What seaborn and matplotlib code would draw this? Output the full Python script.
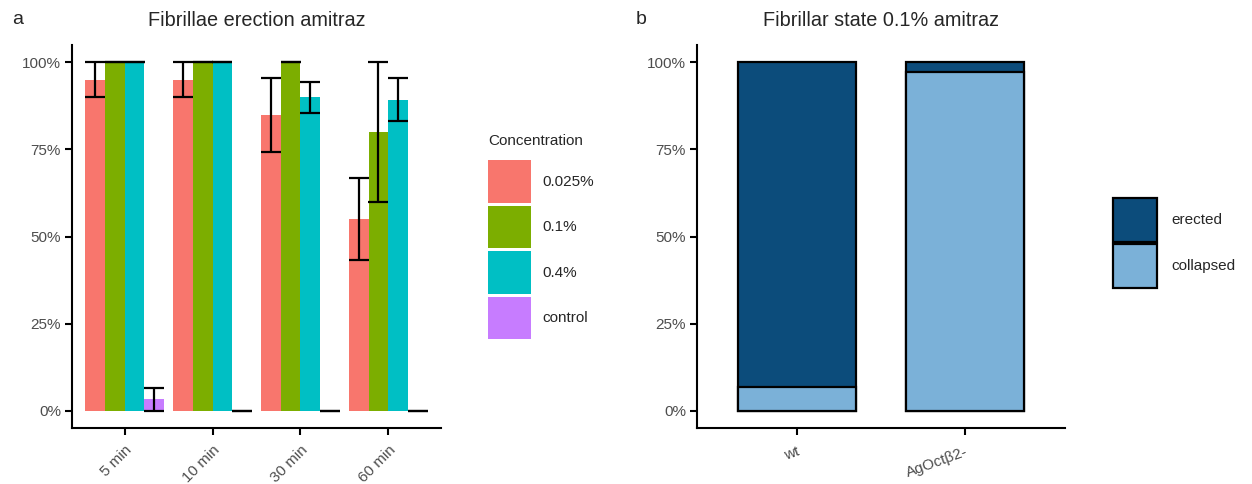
import numpy as np
import pandas as pd
import matplotlib
matplotlib.use("Agg")
import matplotlib.pyplot as plt
import seaborn as sns

# ---- data panel a ----
times = ["5 min", "10 min", "30 min", "60 min"]
concentrations = ["0.025%", "0.1%", "0.4%", "control"]
erect_0025 = [0.95, 0.95, 0.85, 0.55]
erect_01 = [1.00, 1.00, 1.00, 0.80]
erect_04 = [1.00, 1.00, 0.90, 0.893]
erect_ctrl = [0.033, 0.0, 0.0, 0.0]
err_0025 = [0.05, 0.05, 0.106, 0.118]
err_01 = [0.0, 0.0, 0.0, 0.20]
err_04 = [0.0, 0.0, 0.045, 0.062]
err_ctrl = [0.033, 0.0, 0.0, 0.0]
conc_colors = ["#F8766D", "#7CAE00", "#00BFC4", "#C77CFF"]

# ---- data panel b ----
genotypes = ["wt", "AgOctβ2-"]
collapsed = [0.067, 0.972]
erected = [0.933, 0.028]
state_colors = {"erected": "#0C4C7B", "collapsed": "#7BB1D8"}

sns.set_theme(style="white")
plt.rcParams["font.family"] = ["Liberation Sans", "DejaVu Sans"]

fig = plt.figure(figsize=(12.52, 4.84), dpi=100)
axa = fig.add_axes([72 / 1252, 1 - 428 / 484, 369 / 1252, 383 / 484])
axb = fig.add_axes([697 / 1252, 1 - 428 / 484, 368 / 1252, 383 / 484])

vals = [erect_0025, erect_01, erect_04, erect_ctrl]
errs = [err_0025, err_01, err_04, err_ctrl]
rows = []
for c, v in zip(concentrations, vals):
    for t, y in zip(times, v):
        rows.append({"time": t, "conc": c, "value": y})
dfa = pd.DataFrame(rows)

sns.barplot(data=dfa, x="time", y="value", hue="conc", order=times,
            hue_order=concentrations, palette=conc_colors, errorbar=None,
            width=0.9, saturation=1, linewidth=0, ax=axa)

for cont, v, e in zip(axa.containers, vals, errs):
    xs = [p.get_x() + p.get_width() / 2 for p in cont.patches]
    axa.errorbar(xs, v, yerr=e, fmt="none", ecolor="black", elinewidth=1.6,
                 capsize=7, capthick=1.6, zorder=5)

axa.set_xlim(-0.6, 3.6)
axa.set_ylim(-0.05, 1.05)
axa.set_yticks([0, 0.25, 0.5, 0.75, 1.0])
axa.set_yticklabels(["0%", "25%", "50%", "75%", "100%"])
axa.set_xlabel("")
axa.set_ylabel("")
axa.set_title("Fibrillae erection amitraz", fontsize=14.3, pad=14)

handles, labels = axa.get_legend_handles_labels()
lega = axa.legend(handles, labels, title="Concentration", loc="upper left",
                  bbox_to_anchor=(1.127, 0.768), frameon=False, fontsize=11,
                  title_fontsize=11, handlelength=2.85, handleheight=3.9,
                  labelspacing=0.2, handletextpad=0.7, alignment="left",
                  borderaxespad=0, borderpad=0)
lega._legend_box.sep = 9

# ---- panel b ----
total = [c + e for c, e in zip(collapsed, erected)]
dfb = pd.DataFrame({"genotype": genotypes, "total": total, "collapsed": collapsed})
sns.barplot(data=dfb, x="genotype", y="total", color=state_colors["erected"],
            saturation=1, width=0.7, edgecolor="black", linewidth=1.6,
            errorbar=None, ax=axb, label="erected")
sns.barplot(data=dfb, x="genotype", y="collapsed", color=state_colors["collapsed"],
            saturation=1, width=0.7, edgecolor="black", linewidth=1.6,
            errorbar=None, ax=axb, label="collapsed")
axb.set_xlim(-0.595, 1.595)
axb.set_ylim(-0.05, 1.05)
axb.set_yticks([0, 0.25, 0.5, 0.75, 1.0])
axb.set_yticklabels(["0%", "25%", "50%", "75%", "100%"])
axb.set_xlabel("")
axb.set_ylabel("")
axb.set_title("Fibrillar state 0.1% amitraz", fontsize=14.3, pad=14)
hb, lb = axb.get_legend_handles_labels()
axb.legend(hb, lb, loc="upper left", bbox_to_anchor=(1.13, 0.6005), frameon=False,
           fontsize=11, handlelength=2.9, handleheight=4.1, labelspacing=0.1,
           handletextpad=0.9, borderaxespad=0, borderpad=0)

for ax in (axa, axb):
    for s in ("top", "right"):
        ax.spines[s].set_visible(False)
    for s in ("left", "bottom"):
        ax.spines[s].set_color("black")
        ax.spines[s].set_linewidth(1.5)
    ax.tick_params(axis="both", which="both", direction="out", length=5,
                   width=1.5, color="black", labelcolor="#4D4D4D",
                   labelsize=11, pad=3, left=True, bottom=True,
                   top=False, right=False)
    ax.grid(False)

axa.tick_params(axis="x", pad=6)
axb.tick_params(axis="x", pad=7)
for ax, rot in ((axa, 45), (axb, 20)):
    for lab in ax.get_xticklabels():
        lab.set_rotation(rot)
        lab.set_ha("right")
        lab.set_va("top")
        lab.set_rotation_mode("anchor")

fig.text(12 / 1252, 1 - 24 / 484, "a", fontsize=14)
fig.text(636 / 1252, 1 - 24 / 484, "b", fontsize=14)

fig.savefig("out.png", dpi=100, facecolor="white")
